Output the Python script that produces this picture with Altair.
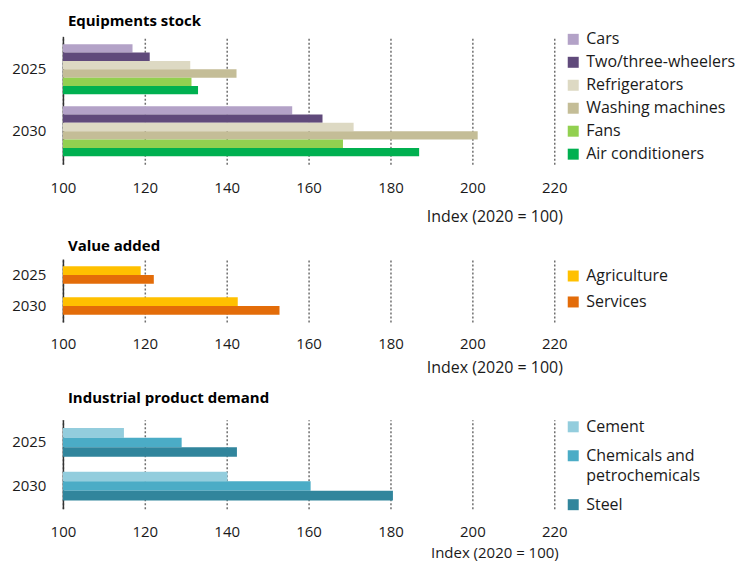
import altair as alt
import pandas as pd

years = ["2025", "2030"]

equip_series = ["Cars", "Two/three-wheelers", "Refrigerators", "Washing machines", "Fans", "Air conditioners"]
equip_2025 = [117, 121.2, 131.1, 142.4, 131.4, 133]
equip_2030 = [156, 163.4, 171, 201.3, 168.4, 187]
equip_colors = ["#B3A2C7", "#604A7B", "#DDD9C3", "#C4BD97", "#92D050", "#00B050"]

va_series = ["Agriculture", "Services"]
va_2025 = [119, 122.2]
va_2030 = [142.7, 152.9]
va_colors = ["#FFC000", "#E36C09"]

ind_series = ["Cement", "Chemicals and petrochemicals", "Steel"]
ind_2025 = [114.9, 129, 142.5]
ind_2030 = [140.2, 160.5, 180.6]
ind_colors = ["#93CDDD", "#4BACC6", "#31859C"]

tick_values = [100, 120, 140, 160, 180, 200, 220]
FONT = "Open Sans"


def panel(title, series, v25, v30, colors, height, p_in, p_out, leg_y, row_pad,
          title_y, label_pad, title_offset, title_size=16):
    rows = []
    for s, a, b in zip(series, v25, v30):
        rows.append({"year": years[0], "series": s, "value": a})
        rows.append({"year": years[1], "series": s, "value": b})
    df = pd.DataFrame(rows)
    return alt.Chart(df).mark_bar().encode(
        x=alt.X("value:Q",
                scale=alt.Scale(domain=[100, 220], zero=False, nice=False),
                axis=alt.Axis(values=tick_values, title="Index (2020 = 100)",
                              grid=True, gridDash=[2, 2], gridColor="#6f6f6f", gridWidth=1.5,
                              domain=False, ticks=False, labelPadding=label_pad,
                              labelFlush=False,
                              labelFontSize=15, labelColor="#1a1a1a", labelFont=FONT,
                              titleFont=FONT, titleFontSize=title_size, titleFontWeight="normal",
                              titleColor="#1a1a1a", titleX=432, titleY=title_y,
                              titleAlign="center", titleBaseline="top")),
        x2=alt.X2(datum=100),
        y=alt.Y("year:N", sort=years,
                scale=alt.Scale(paddingInner=p_in, paddingOuter=p_out),
                axis=alt.Axis(title=None, ticks=False, domain=True, domainColor="#333333",
                              domainWidth=1.5, labelPadding=17, labelFontSize=15,
                              labelColor="#1a1a1a", labelFont=FONT, grid=False)),
        yOffset=alt.YOffset("series:N", sort=series,
                            scale=alt.Scale(paddingInner=0, paddingOuter=0)),
        color=alt.Color("series:N", sort=series,
                        scale=alt.Scale(domain=series, range=colors),
                        legend=alt.Legend(title=None, orient="none", legendX=503, legendY=leg_y,
                                          symbolType="square", symbolSize=121,
                                          symbolStrokeWidth=0, symbolOpacity=1,
                                          labelFontSize=16, labelFont=FONT, labelColor="#1a1a1a",
                                          labelOffset=5, rowPadding=row_pad, padding=0,
                                          labelLimit=300,
                                          labelExpr="datum.label == 'Chemicals and petrochemicals' ? ['Chemicals and', 'petrochemicals'] : datum.label")),
    ).properties(
        width=492, height=height,
        title=alt.TitleParams(title, anchor="start", frame="group", dx=5, fontSize=15,
                              fontWeight="bold", font=FONT, color="#000000",
                              offset=title_offset),
    )


p1 = panel("Equipments stock", equip_series, equip_2025, equip_2030, equip_colors,
           128, 0.19, 0.127, -5, 7, 44, 16, 2)
p2 = panel("Value added", va_series, va_2025, va_2030, va_colors,
           63, 0.43, 0.23, 9, 10, 38, 15, 5)
p3 = panel("Industrial product demand", ind_series, ind_2025, ind_2030, ind_colors,
           89, 0.34, 0.19, -1, 13, 37, 16, 13, 15)

top_pair = alt.vconcat(p1, p2, spacing=15).resolve_scale(
    color="independent", yOffset="independent", y="independent", x="independent"
)

chart = alt.vconcat(top_pair, p3, spacing=15).resolve_scale(
    color="independent", yOffset="independent", y="independent", x="independent"
).configure(
    style={"guide-label": {"lineHeight": 20}},
    view=alt.ViewConfig(stroke=None),
).properties(padding={"left": 11, "top": 14, "right": 5, "bottom": 2})

chart.save("out.html", embed_options={"renderer": "svg", "actions": False})
